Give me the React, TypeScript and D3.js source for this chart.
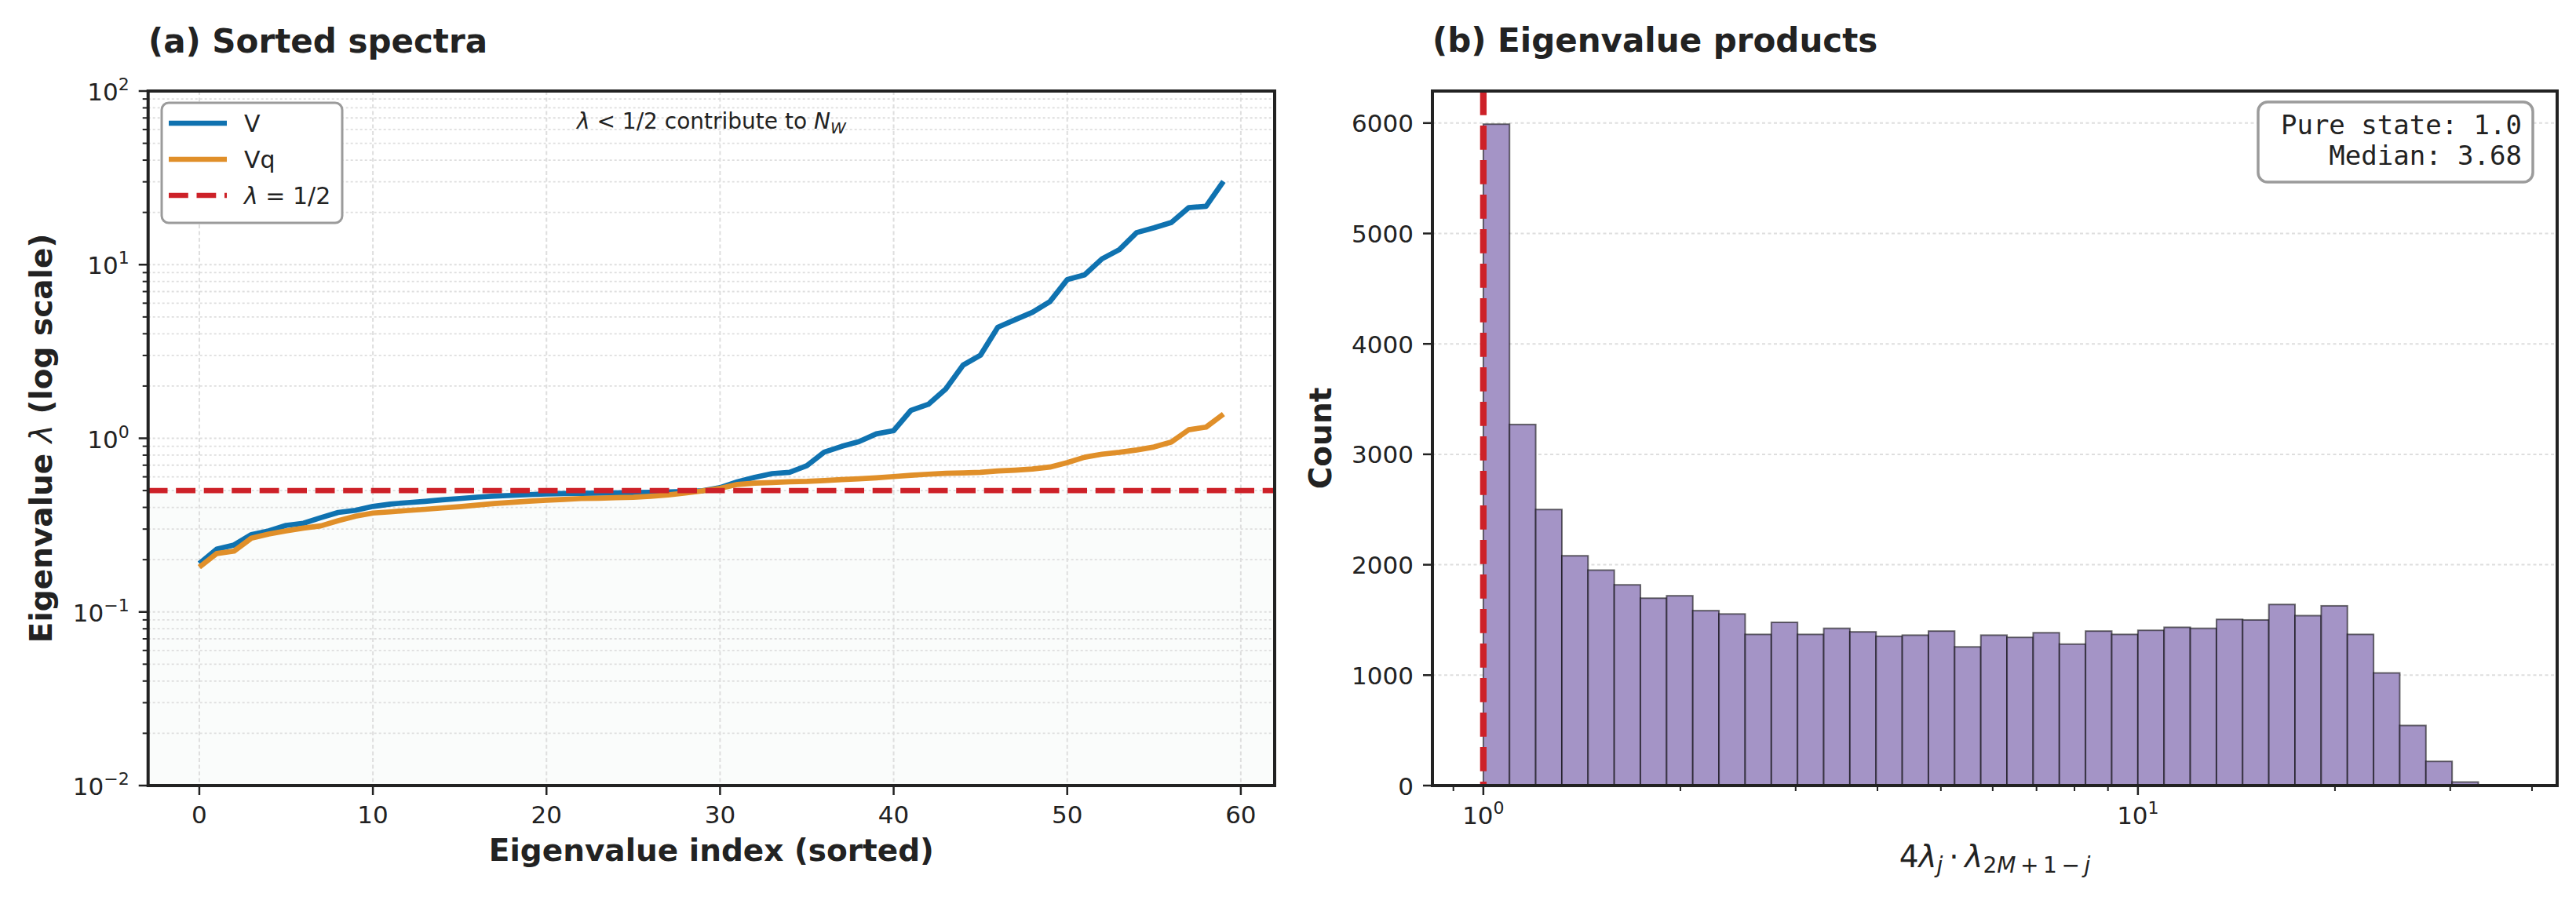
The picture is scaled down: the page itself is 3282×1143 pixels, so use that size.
import * as d3 from 'd3';

const W = 3282;
const H = 1143;

// (a) sorted spectra, eigenvalue index 0..59
const eigIndex = d3.range(60);
const lambdaV = [
  0.190, 0.230, 0.243, 0.279, 0.293, 0.315, 0.324, 0.349, 0.374, 0.385,
  0.405, 0.418, 0.426, 0.433, 0.442, 0.450, 0.458, 0.465, 0.469, 0.474,
  0.478, 0.481, 0.482, 0.483, 0.485, 0.487, 0.489, 0.491, 0.494, 0.499,
  0.520, 0.562, 0.596, 0.626, 0.637, 0.695, 0.832, 0.898, 0.957, 1.06,
  1.107, 1.45, 1.57, 1.92, 2.64, 3.01, 4.36, 4.82, 5.32, 6.12,
  8.2, 8.73, 10.8, 12.2, 15.3, 16.3, 17.5, 21.3, 21.7, 30.2,
];
const lambdaVq = [
  0.181, 0.217, 0.224, 0.266, 0.281, 0.293, 0.304, 0.313, 0.335, 0.356,
  0.371, 0.377, 0.384, 0.390, 0.397, 0.404, 0.412, 0.421, 0.428, 0.434,
  0.440, 0.445, 0.450, 0.452, 0.455, 0.458, 0.464, 0.472, 0.484, 0.498,
  0.515, 0.542, 0.552, 0.556, 0.562, 0.565, 0.571, 0.578, 0.584, 0.592,
  0.602, 0.612, 0.621, 0.628, 0.632, 0.637, 0.648, 0.655, 0.665, 0.683,
  0.724, 0.778, 0.810, 0.830, 0.857, 0.891, 0.951, 1.12, 1.16, 1.38,
];
const lambdaHalf = 0.5;

// (b) histogram of products, log-spaced bins
const binEdges = [
  1.000, 1.0965, 1.2023, 1.3183, 1.4454, 1.5849, 1.7378, 1.9055, 2.0893, 2.2909,
  2.5119, 2.7542, 3.0200, 3.3113, 3.6308, 3.9811, 4.3652, 4.7863, 5.2481, 5.7544,
  6.3096, 6.9183, 7.5858, 8.3176, 9.1201, 10.000, 10.965, 12.023, 13.183, 14.454,
  15.849, 17.378, 19.055, 20.893, 22.909, 25.119, 27.542, 30.200, 33.113,
];
const binCounts = [
  5990, 3270, 2500, 2081, 1951, 1818, 1697, 1719, 1584, 1554,
  1369, 1478, 1369, 1424, 1392, 1352, 1362, 1399, 1256, 1362,
  1342, 1384, 1281, 1399, 1369, 1406, 1433, 1424, 1505, 1500,
  1640, 1539, 1628, 1369, 1020, 544, 219, 32,
];
const pureState = 1.0;
const medianProduct = 3.68;

const xTicksA = [0, 10, 20, 30, 40, 50, 60];
const yTicksA = [1e-2, 1e-1, 1, 10, 100];
const yTickExpA = ['−2', '−1', '0', '1', '2'];
const yTicksB = [0, 1000, 2000, 3000, 4000, 5000, 6000];
const xTicksB = [1, 10];
const xTickExpB = ['0', '1'];

const BLUE = '#0f72b0';
const ORANGE = '#e08f29';
const RED = '#cd2128';
const INK = '#222222';
const GRID = '#dedede';
const FONT = '"DejaVu Sans", sans-serif';
const MONO = '"DejaVu Sans Mono", monospace';

const A = { x0: 188.7, x1: 1624, y0: 116, y1: 1001 };
const B = { x0: 1825, x1: 3258, y0: 116, y1: 1001 };

export default function App() {
  const xA = d3.scaleLinear().domain([-2.95, 61.95]).range([A.x0, A.x1]);
  const yA = d3.scaleLog().domain([0.01, 100]).range([A.y1, A.y0]);
  const xB = d3.scaleLog().domain([0.836, 43.7]).range([B.x0, B.x1]);
  const yB = d3.scaleLinear().domain([0, 6290]).range([B.y1, B.y0]);

  const minorA = yA.ticks().filter((t) => !yTicksA.some((m) => Math.abs(m - t) / m < 1e-6));
  const minorB = xB.ticks().filter((t) => !xTicksB.some((m) => Math.abs(m - t) / m < 1e-6));

  const line = d3.line<number>().x((_, i) => xA(eigIndex[i])).y((d) => yA(d));

  const halfY = yA(lambdaHalf);

  return (
    <svg width={W} height={H} viewBox={`0 0 ${W} ${H}`}
      style={{ position: 'absolute', left: 0, top: 0, background: '#fff' }}
      fontFamily={FONT} fill={INK}>
      <rect x={0} y={0} width={W} height={H} fill="#fff" />

      {/* ---------- (a) ---------- */}
      <rect x={A.x0} y={halfY} width={A.x1 - A.x0} height={A.y1 - halfY} fill="#fafcfb" />
      {minorA.map((t) => (
        <line key={`gm${t}`} x1={A.x0} x2={A.x1} y1={yA(t)} y2={yA(t)}
          stroke={GRID} strokeWidth={1.8} strokeDasharray="3 3" />
      ))}
      {yTicksA.map((t) => (
        <line key={`gy${t}`} x1={A.x0} x2={A.x1} y1={yA(t)} y2={yA(t)}
          stroke={GRID} strokeWidth={2} strokeDasharray="3 3" />
      ))}
      {xTicksA.map((t) => (
        <line key={`gx${t}`} x1={xA(t)} x2={xA(t)} y1={A.y0} y2={A.y1}
          stroke={GRID} strokeWidth={2} strokeDasharray="5 3.5" />
      ))}

      <path d={line(lambdaV) ?? ''} fill="none" stroke={BLUE} strokeWidth={6.7} strokeLinejoin="round" />
      <path d={line(lambdaVq) ?? ''} fill="none" stroke={ORANGE} strokeWidth={6.7} strokeLinejoin="round" />
      <line x1={A.x0} x2={A.x1} y1={halfY} y2={halfY} stroke={RED} strokeWidth={6.7} strokeDasharray="24.8 10.7" />

      <text x={(A.x0 + A.x1) / 2} y={164} textAnchor="middle" fontSize={28}>
        <tspan fontStyle="italic">λ</tspan> &lt; 1/2 contribute to <tspan fontStyle="italic">N</tspan>
        <tspan fontStyle="italic" fontSize={20} dy={6}>W</tspan>
      </text>

      {/* legend */}
      <rect x={206} y={131} width={230} height={153} rx={9} fill="#fff" stroke="#9b9b9b" strokeWidth={3} />
      {[
        { label: 'V', color: BLUE, dash: undefined },
        { label: 'Vq', color: ORANGE, dash: undefined },
        { label: 'half', color: RED, dash: '24.8 10.7' },
      ].map((e, i) => {
        const ly = 157 + i * 46;
        return (
          <g key={e.label}>
            <line x1={215} x2={289} y1={ly} y2={ly} stroke={e.color} strokeWidth={6.7} strokeDasharray={e.dash} />
            <text x={311} y={ly + 11} fontSize={30}>
              {e.label === 'half' ? (<><tspan fontStyle="italic">λ</tspan> = 1/2</>) : e.label}
            </text>
          </g>
        );
      })}

      {/* axes a ticks */}
      {xTicksA.map((t) => (
        <g key={`xt${t}`}>
          <line x1={xA(t)} x2={xA(t)} y1={A.y1} y2={A.y1 + 12} stroke={INK} strokeWidth={2.5} />
          <text x={xA(t)} y={A.y1 + 48} textAnchor="middle" fontSize={31}>{t}</text>
        </g>
      ))}
      {minorA.map((t) => (
        <line key={`ym${t}`} x1={A.x0 - 7} x2={A.x0} y1={yA(t)} y2={yA(t)} stroke={INK} strokeWidth={2} />
      ))}
      {yTicksA.map((t, i) => (
        <g key={`yt${t}`}>
          <line x1={A.x0 - 12} x2={A.x0} y1={yA(t)} y2={yA(t)} stroke={INK} strokeWidth={2.5} />
          <text x={A.x0 - 24} y={yA(t) + 12} textAnchor="end" fontSize={31}>
            10<tspan fontSize={22} dy={-13}>{yTickExpA[i]}</tspan>
          </text>
        </g>
      ))}
      <rect x={A.x0} y={A.y0} width={A.x1 - A.x0} height={A.y1 - A.y0} fill="none" stroke={INK} strokeWidth={4} />

      <text x={(A.x0 + A.x1) / 2} y={1097} textAnchor="middle" fontSize={39} fontWeight="bold">
        Eigenvalue index (sorted)
      </text>
      <text transform={`translate(66, ${(A.y0 + A.y1) / 2}) rotate(-90)`} textAnchor="middle" fontSize={39} fontWeight="bold">
        Eigenvalue <tspan fontStyle="italic" fontWeight="normal">λ</tspan> (log scale)
      </text>
      <text x={189} y={67} fontSize={42} fontWeight="bold">(a) Sorted spectra</text>

      {/* ---------- (b) ---------- */}
      {yTicksB.map((t) => (
        <line key={`gb${t}`} x1={B.x0} x2={B.x1} y1={yB(t)} y2={yB(t)}
          stroke={GRID} strokeWidth={2} strokeDasharray="4 3.5" />
      ))}
      {binCounts.map((c, i) => (
        <rect key={`bar${i}`} x={xB(binEdges[i])} y={yB(c)}
          width={xB(binEdges[i + 1]) - xB(binEdges[i])} height={yB(0) - yB(c)}
          fill="#a494c6" stroke="#000" strokeOpacity={0.55} strokeWidth={2} />
      ))}
      <line x1={xB(pureState)} x2={xB(pureState)} y1={B.y0} y2={B.y1}
        stroke={RED} strokeWidth={8.3} strokeDasharray="30.7 13.3" />

      <rect x={2877} y={130} width={350} height={102} rx={12} fill="#fff" stroke="#9b9b9b" strokeWidth={3.5} />
      <text x={3213} y={171} textAnchor="end" fontSize={34} fontFamily={MONO}>
        Pure state: {pureState.toFixed(1)}
      </text>
      <text x={3213} y={210} textAnchor="end" fontSize={34} fontFamily={MONO}>
        Median: {medianProduct.toFixed(2)}
      </text>

      {minorB.map((t) => (
        <line key={`xbm${t}`} x1={xB(t)} x2={xB(t)} y1={B.y1} y2={B.y1 + 7} stroke={INK} strokeWidth={2} />
      ))}
      {xTicksB.map((t, i) => (
        <g key={`xbt${t}`}>
          <line x1={xB(t)} x2={xB(t)} y1={B.y1} y2={B.y1 + 12} stroke={INK} strokeWidth={2.5} />
          <text x={xB(t)} y={B.y1 + 49} textAnchor="middle" fontSize={31}>
            10<tspan fontSize={22} dy={-13}>{xTickExpB[i]}</tspan>
          </text>
        </g>
      ))}
      {yTicksB.map((t) => (
        <g key={`ybt${t}`}>
          <line x1={B.x0 - 12} x2={B.x0} y1={yB(t)} y2={yB(t)} stroke={INK} strokeWidth={2.5} />
          <text x={B.x0 - 24} y={yB(t) + 11.5} textAnchor="end" fontSize={31}>{t}</text>
        </g>
      ))}
      <rect x={B.x0} y={B.y0} width={B.x1 - B.x0} height={B.y1 - B.y0} fill="none" stroke={INK} strokeWidth={4} />

      <text x={(B.x0 + B.x1) / 2} y={1105} textAnchor="middle" fontSize={39}>
        4<tspan fontStyle="italic">λ</tspan>
        <tspan fontStyle="italic" fontSize={28} dy={7}>j</tspan>
        <tspan dy={-7}>{'\u2009·\u2009'}</tspan>
        <tspan fontStyle="italic">λ</tspan>
        <tspan fontSize={28} dy={7}>2<tspan fontStyle="italic">M</tspan>{'\u2009+\u20091\u2009−\u2009'}<tspan fontStyle="italic">j</tspan></tspan>
      </text>
      <text transform={`translate(1696, ${(B.y0 + B.y1) / 2}) rotate(-90)`} textAnchor="middle" fontSize={39} fontWeight="bold">
        Count
      </text>
      <text x={1825} y={66} fontSize={42} fontWeight="bold">(b) Eigenvalue products</text>
    </svg>
  );
}
